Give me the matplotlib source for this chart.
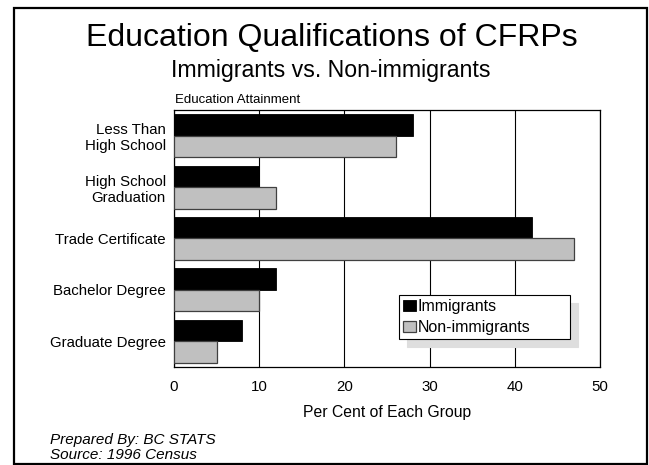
import matplotlib

matplotlib.use("Agg")

import matplotlib.pyplot as plt
import numpy as np
from matplotlib.patches import Rectangle

plt.rcParams["font.family"] = ["Liberation Sans", "DejaVu Sans"]

categories = [
    "Less Than\nHigh School",
    "High School\nGraduation",
    "Trade Certificate",
    "Bachelor Degree",
    "Graduate Degree",
]
immigrants = [28, 10, 42, 12, 8]
non_immigrants = [26, 12, 47, 10, 5]
x_ticks = [0, 10, 20, 30, 40, 50]

W, H = 649, 465
fig = plt.figure(figsize=(W / 100, H / 100), dpi=100)

# axes box in pixel terms: x 174-600, y 110-367
ax = fig.add_axes([174 / W, 1 - 367 / H, 426 / W, 257 / H])

y = np.arange(len(categories))
bh = 0.42
ax.barh(y - bh / 2, immigrants, height=bh, color="black", edgecolor="black",
        linewidth=0.6, label="Immigrants", zorder=3)
ax.barh(y + bh / 2, non_immigrants, height=bh, color="#c0c0c0", edgecolor="#404040",
        linewidth=0.9, label="Non-immigrants", zorder=3)

ax.set_xlim(0, 50)
ax.set_ylim(len(categories) - 0.5, -0.5)
ax.set_xticks(x_ticks)
ax.set_yticks(y, labels=categories)
ax.tick_params(axis="both", length=0, labelsize=10.8)
ax.tick_params(axis="x", pad=9)
ax.tick_params(axis="y", pad=6)
for lab in ax.get_yticklabels():
    lab.set_horizontalalignment("right")
ax.grid(axis="x", color="black", linewidth=0.8, zorder=0)
ax.set_axisbelow(True)
for sp in ax.spines.values():
    sp.set_linewidth(0.9)
ax.set_xlabel("Per Cent of Each Group", fontsize=11.3, labelpad=8)

leg = ax.legend(
    loc="upper left",
    bbox_to_anchor=(0.528, 0.093, 0.402, 0.187),
    mode="expand",
    borderaxespad=0,
    borderpad=0.25,
    handlelength=0.8,
    handleheight=0.65,
    handletextpad=0.12,
    labelspacing=0.4,
    fontsize=11.5,
    fancybox=False,
    framealpha=1,
    shadow={"ox": 5.8, "oy": -5.8, "facecolor": "#dedede", "edgecolor": "#dedede", "alpha": 1},
)
leg.get_frame().set_edgecolor("black")
leg.get_frame().set_linewidth(0.8)
leg.set_zorder(5)

fig.text(331.5 / W, 1 - 45.7 / H, "Education Qualifications of CFRPs",
         ha="center", va="baseline", fontsize=23)
fig.text(331 / W, 1 - 76.7 / H, "Immigrants vs. Non-immigrants",
         ha="center", va="baseline", fontsize=16.7)
fig.text(175 / W, 1 - 102.7 / H, "Education Attainment",
         ha="left", va="baseline", fontsize=9.5)
fig.text(50 / W, 1 - 443.5 / H, "Prepared By: BC STATS",
         ha="left", va="baseline", fontsize=11, style="italic")
fig.text(50 / W, 1 - 459 / H, "Source: 1996 Census",
         ha="left", va="baseline", fontsize=11, style="italic")

# outer frame
fig.add_artist(Rectangle((14.3 / W, 1 - 464 / H), (647 - 14.3) / W, (464 - 7.7) / H,
                         transform=fig.transFigure, fill=False, edgecolor="black",
                         linewidth=1.6, clip_on=False))

fig.savefig("out.png", dpi=100)
